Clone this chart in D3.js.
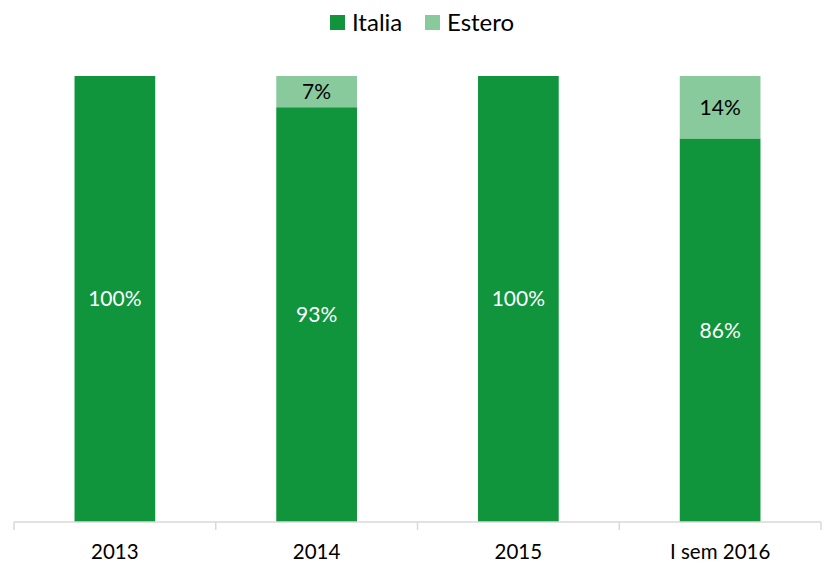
<!DOCTYPE html>
<html>
<head>
<meta charset="utf-8">
<script src="https://cdn.jsdelivr.net/npm/d3@7"></script>
<style>
  body { margin: 0; background: #fff; }
  text { font-family: Lato, "Open Sans", sans-serif; }
</style>
</head>
<body>
<script>
var width = 826;
var height = 570;

var categories = ['2013', '2014', '2015', 'I sem 2016'];
var italia = [100, 93, 100, 86];
var estero = [0, 7, 0, 14];
var seriesNames = ['Italia', 'Estero'];
var colors = ['#10943c', '#88ca9c'];
var labelColors = ['#ffffff', '#000000'];

var x = d3.scaleBand().domain(categories).range([14, 821]).paddingInner(0).paddingOuter(0);
var y = d3.scaleLinear().domain([0, 100]).range([522, 76]);
var barW = x.bandwidth() * 0.40;

var svg = d3.select('body').append('svg')
  .attr('width', width)
  .attr('height', height);

// stacked data
var rows = categories.map(function (c, i) { return { cat: c, Italia: italia[i], Estero: estero[i] }; });
var stack = d3.stack().keys(seriesNames)(rows);

var layers = svg.selectAll('g.layer')
  .data(stack)
  .enter()
  .append('g')
  .attr('class', 'layer')
  .attr('fill', function (d, i) { return colors[i]; });

layers.selectAll('rect')
  .data(function (d) { return d; })
  .enter()
  .append('rect')
  .attr('x', function (d) { return x(d.data.cat) + (x.bandwidth() - barW) / 2; })
  .attr('y', function (d) { return y(d[1]); })
  .attr('width', barW)
  .attr('height', function (d) { return y(d[0]) - y(d[1]); });

// labels
layers.each(function (layer, li) {
  d3.select(this).selectAll('text')
    .data(layer.filter(function (d) { return d[1] - d[0] > 0; }))
    .enter()
    .append('text')
    .attr('x', function (d) { return x(d.data.cat) + x.bandwidth() / 2; })
    .attr('y', function (d) { return (y(d[0]) + y(d[1])) / 2; })
    .attr('dy', '0.35em')
    .attr('text-anchor', 'middle')
    .attr('font-size', 21)
    .attr('fill', labelColors[li])
    .text(function (d) { return (d[1] - d[0]) + '%'; });
});

// x axis
var axis = svg.append('g').attr('transform', 'translate(0,522)');
axis.append('line')
  .attr('x1', 14).attr('x2', 821)
  .attr('y1', 0).attr('y2', 0)
  .attr('stroke', '#d9d9d9').attr('stroke-width', 1.5);
var tickPos = categories.map(function (c) { return x(c); }).concat([x.range()[1]]);
axis.selectAll('line.tick')
  .data(tickPos)
  .enter()
  .append('line')
  .attr('class', 'tick')
  .attr('x1', function (d) { return d; }).attr('x2', function (d) { return d; })
  .attr('y1', 0).attr('y2', 8)
  .attr('stroke', '#d9d9d9').attr('stroke-width', 1.5);
axis.selectAll('text')
  .data(categories)
  .enter()
  .append('text')
  .attr('x', function (d) { return x(d) + x.bandwidth() / 2; })
  .attr('y', 30)
  .attr('dy', '0.35em')
  .attr('text-anchor', 'middle')
  .attr('font-size', 20.5)
  .attr('fill', '#000')
  .text(function (d) { return d; });

// legend
var legendX = [330, 425];
var legend = svg.selectAll('g.legend')
  .data(seriesNames)
  .enter()
  .append('g')
  .attr('class', 'legend')
  .attr('transform', function (d, i) { return 'translate(' + legendX[i] + ',15)'; });
legend.append('rect')
  .attr('width', 15).attr('height', 15)
  .attr('fill', function (d, i) { return colors[i]; });
legend.append('text')
  .attr('x', 22).attr('y', 7.5)
  .attr('dy', '0.35em')
  .attr('font-size', 24)
  .attr('fill', '#000')
  .text(function (d) { return d; });
</script>
</body>
</html>
